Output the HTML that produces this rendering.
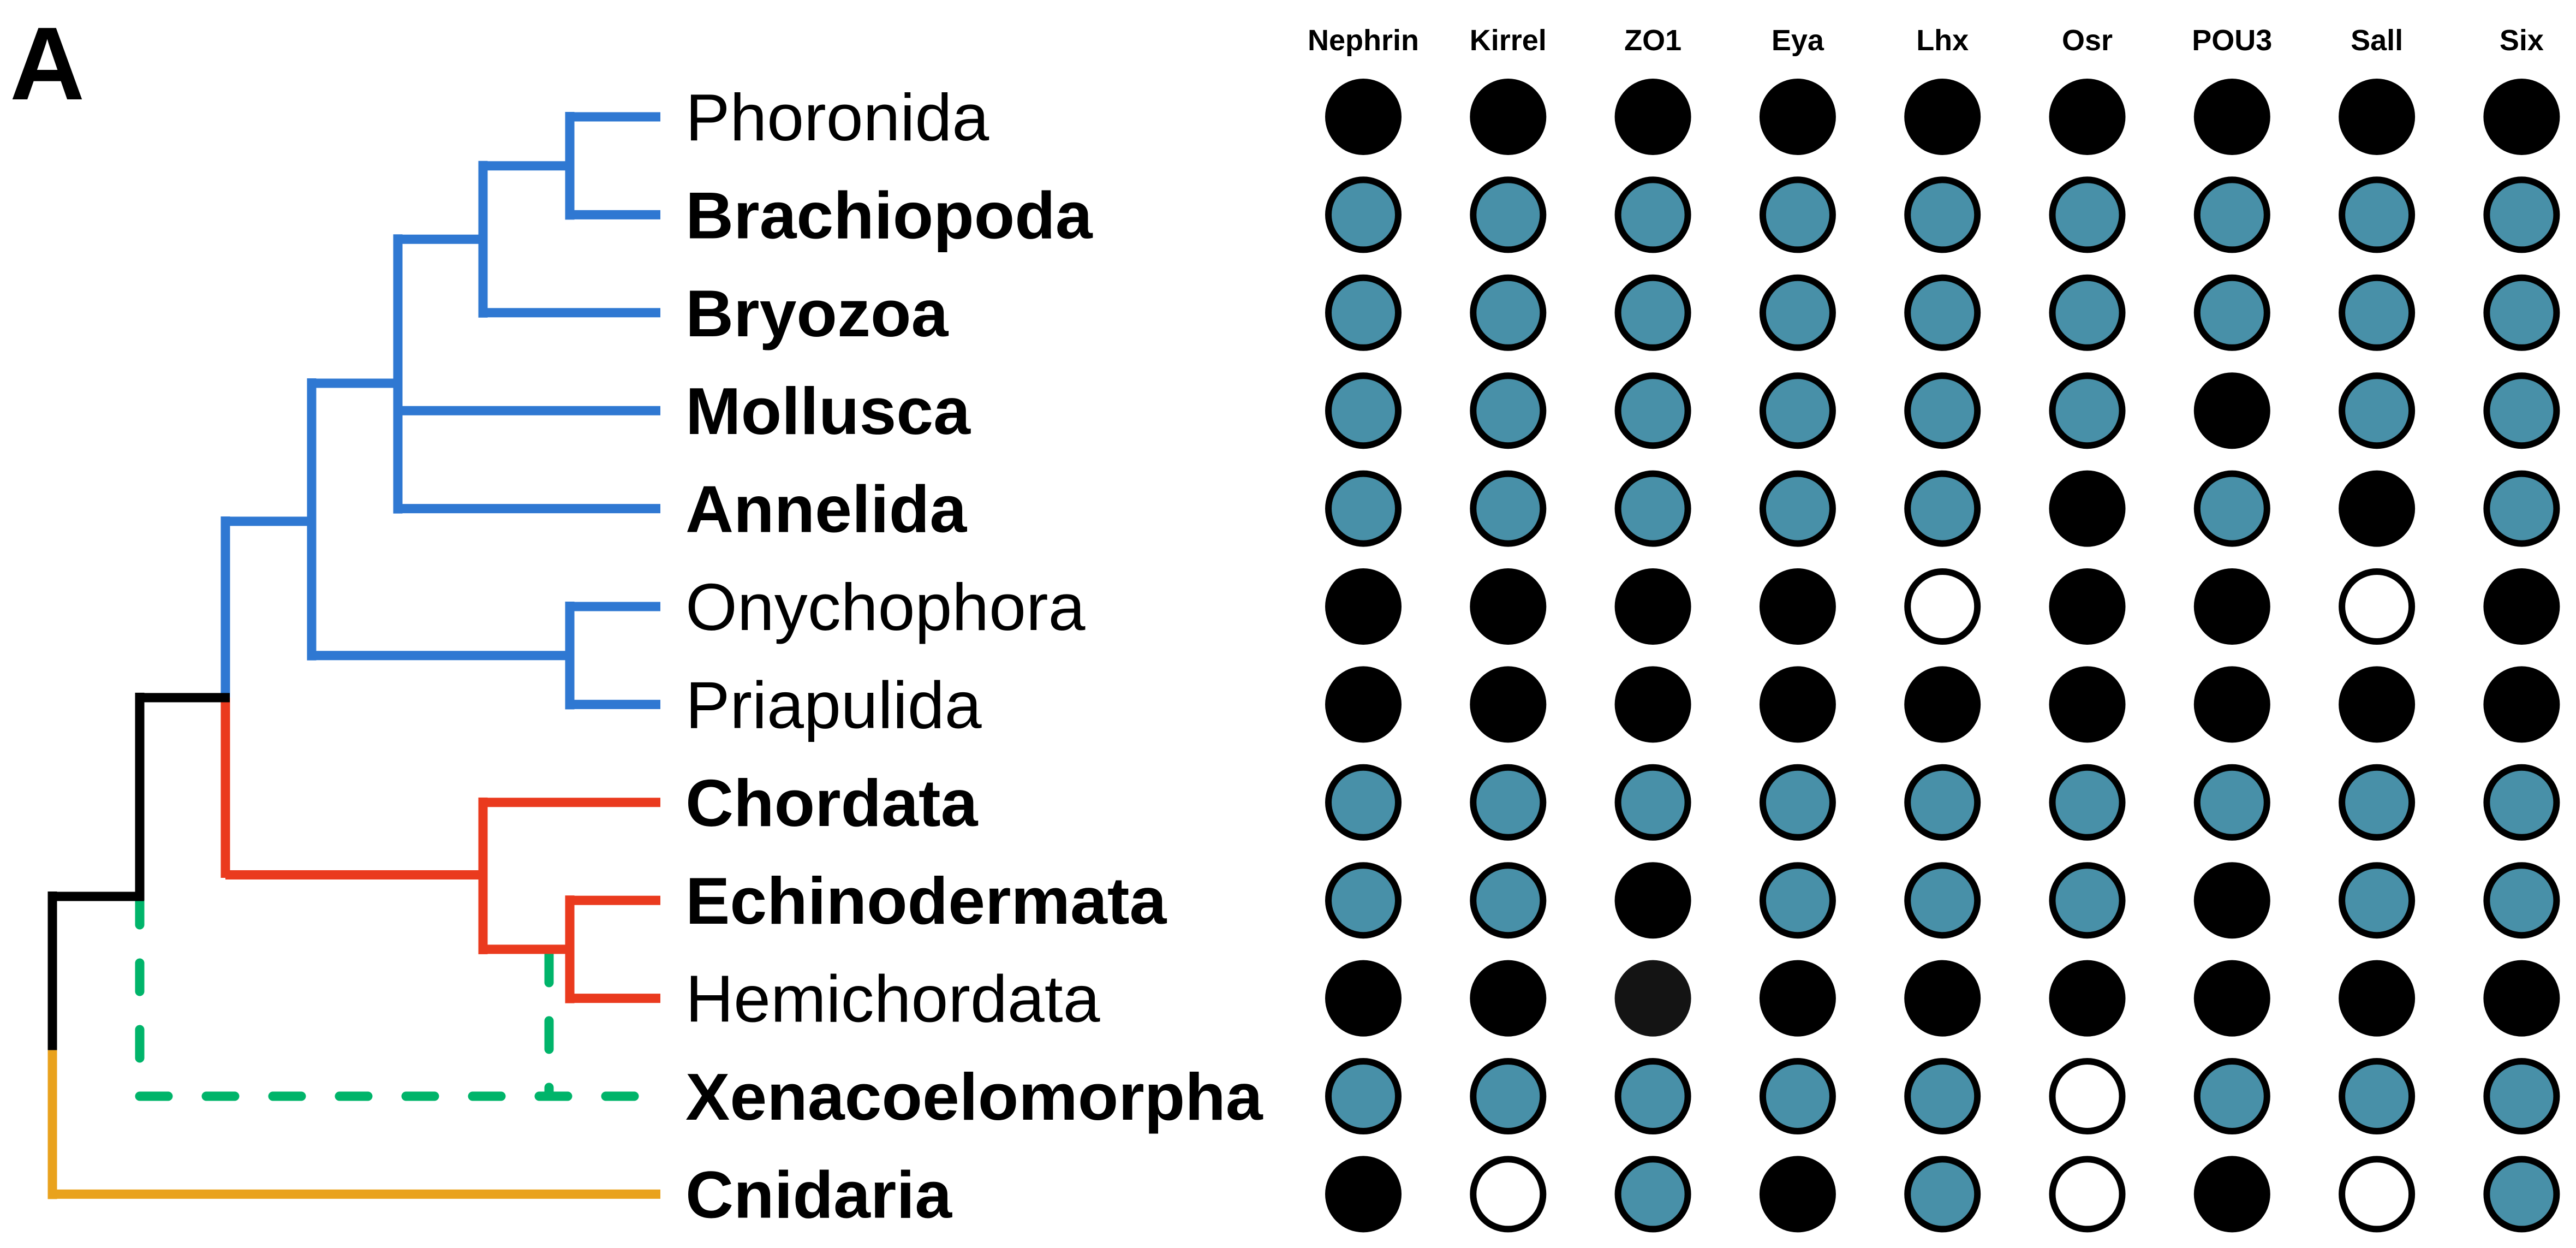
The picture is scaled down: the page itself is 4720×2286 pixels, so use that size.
<!DOCTYPE html>
<html><head><meta charset="utf-8"><style>
html,body{margin:0;padding:0;background:#fff;}
svg{display:block;}
text{font-family:"Liberation Sans",Arial,sans-serif;}
</style></head><body>
<svg id="fig" width="4720" height="2286" viewBox="0 0 4720 2286" xmlns="http://www.w3.org/2000/svg">
<text x="18" y="182" font-size="190" font-weight="bold">A</text>
<g id="tree" fill="none" stroke-width="17" stroke-linecap="butt"></g>
<g id="labels"></g>
<g id="headers"></g>
<g id="dots"></g>
</svg>
<script>
const taxa = ["Phoronida","Brachiopoda","Bryozoa","Mollusca","Annelida","Onychophora","Priapulida","Chordata","Echinodermata","Hemichordata","Xenacoelomorpha","Cnidaria"];
const boldTaxa = [false,true,true,true,true,false,false,true,true,false,true,true];
const genes = ["Nephrin","Kirrel","ZO1","Eya","Lhx","Osr","POU3","Sall","Six"];
// 0 = black (absent), 1 = teal (present), 2 = white (not found), 3 = dark grey
const matrix = [
 [0,0,0,0,0,0,0,0,0],
 [1,1,1,1,1,1,1,1,1],
 [1,1,1,1,1,1,1,1,1],
 [1,1,1,1,1,1,0,1,1],
 [1,1,1,1,1,0,1,0,1],
 [0,0,0,0,2,0,0,2,0],
 [0,0,0,0,0,0,0,0,0],
 [1,1,1,1,1,1,1,1,1],
 [1,1,0,1,1,1,0,1,1],
 [0,0,3,0,0,0,0,0,0],
 [1,1,1,1,1,2,1,1,1],
 [0,2,1,0,1,2,0,2,1]
];
const NS="http://www.w3.org/2000/svg";
const rowY = r => 214 + r*179.4;
const colX = c => 2498 + c*265.3;
const fills = ["#000000","#4890A8","#ffffff","#141414"];

// tree
const tree=document.getElementById('tree');
function seg(x1,r1,x2,r2,color,dash,name){
  const l=document.createElementNS(NS,'line');
  l.setAttribute('x1',x1);l.setAttribute('y1',rowY(r1));
  l.setAttribute('x2',x2);l.setAttribute('y2',rowY(r2));
  l.setAttribute('stroke',color);
  if(dash){l.setAttribute('stroke-dasharray','52 70');l.setAttribute('stroke-linecap','round');}
  
  
  tree.appendChild(l);
}
const B="#2F78D2",R="#EA3A1E",K="#000",O="#E9A21D",G="#00B46A";
const TIP=1210;
// green dashed
seg(256,7.96,256,10,G,true,'xeno-dashed-vertical');
seg(1006,8.55,1006,10,G,true,'xeno-dashed-vertical-2');
seg(256,10,TIP,10,G,true,'xeno-dashed-branch');
// blue
seg(1044,0,TIP,0,B,false,'branch-phoronida');
seg(1044,1,TIP,1,B,false,'branch-brachiopoda');
seg(1044,-0.05,1044,1.05,B,false,'node-vertical');
seg(885,0.5,1044,0.5,B,false,'branch');
seg(885,2,TIP,2,B,false,'branch-bryozoa');
seg(885,0.45,885,2.05,B,false,'node-vertical');
seg(729,1.25,885,1.25,B,false,'branch');
seg(729,3,TIP,3,B,false,'branch-mollusca');
seg(729,4,TIP,4,B,false,'branch-annelida');
seg(729,1.2,729,4.05,B,false,'node-vertical');
seg(571,2.72,729,2.72,B,false,'branch');
seg(1044,5,TIP,5,B,false,'branch-onychophora');
seg(1044,6,TIP,6,B,false,'branch-priapulida');
seg(1044,4.95,1044,6.05,B,false,'node-vertical');
seg(571,5.5,1044,5.5,B,false,'branch');
seg(571,2.67,571,5.55,B,false,'node-vertical');
seg(413,4.13,571,4.13,B,false,'branch');
seg(413,4.08,413,5.93,B,false,'node-vertical');
// red
seg(413,5.93,413,7.77,R,false,'node-vertical-red');
seg(413,7.74,885,7.74,R,false,'branch-deuterostomia');
seg(885,7,TIP,7,R,false,'branch-chordata');
seg(885,6.95,885,8.55,R,false,'node-vertical');
seg(885,8.5,1044,8.5,R,false,'branch');
seg(1044,8,TIP,8,R,false,'branch-echinodermata');
seg(1044,9,TIP,9,R,false,'branch-hemichordata');
seg(1044,7.95,1044,9.05,R,false,'node-vertical');
// black
seg(256,5.93,421,5.93,K,false,'branch-root');
seg(256,5.88,256,8.0,K,false,'node-vertical');
seg(96,7.96,264,7.96,K,false,'branch-root');
seg(96,7.91,96,9.53,K,false,'root-vertical');
// orange
seg(96,9.53,96,11.05,O,false,'root-vertical-cnidaria');
seg(96,11,TIP,11,O,false,'branch-cnidaria');

// labels
const lab=document.getElementById('labels');
taxa.forEach((t,i)=>{
  const e=document.createElementNS(NS,'text');
  e.setAttribute('x',1256);e.setAttribute('y',rowY(i)+43);
  e.setAttribute('font-size',122);
  if(boldTaxa[i]) e.setAttribute('font-weight','bold');
  e.textContent=t;
  
  
  lab.appendChild(e);
});
// headers
const hd=document.getElementById('headers');
genes.forEach((g,j)=>{
  const e=document.createElementNS(NS,'text');
  e.setAttribute('x',colX(j));e.setAttribute('y',92);
  e.setAttribute('font-size',54);e.setAttribute('font-weight','bold');
  e.setAttribute('text-anchor','middle');
  e.textContent=g;
  
  
  hd.appendChild(e);
});
// dots
const dg=document.getElementById('dots');
matrix.forEach((row,i)=>row.forEach((v,j)=>{
  const c=document.createElementNS(NS,'circle');
  c.setAttribute('cx',colX(j));c.setAttribute('cy',rowY(i));
  c.setAttribute('fill',fills[v]);
  if(v===1||v===2){c.setAttribute('r',64);c.setAttribute('stroke','#000');c.setAttribute('stroke-width',12);}
  else c.setAttribute('r',70);
  
  
  dg.appendChild(c);
}));
</script>
</body></html>
